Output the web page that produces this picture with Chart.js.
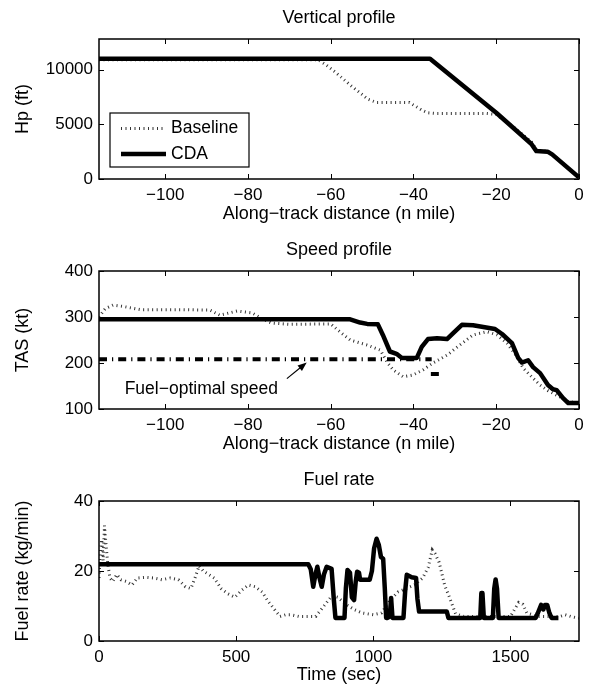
<!DOCTYPE html>
<html>
<head>
<meta charset="utf-8">
<script src="https://cdn.jsdelivr.net/npm/chart.js@4.4.0/dist/chart.umd.min.js"></script>
<style>
html, body { margin: 0; padding: 0; background: #fff; overflow: hidden; }
canvas { position: absolute; left: 0; }
</style>
</head>
<body>
<canvas id="c1" width="590" height="225" style="top:0px"></canvas>
<canvas id="c2" width="590" height="223" style="top:232px"></canvas>
<canvas id="c3" width="590" height="224" style="top:462px"></canvas>
<script>
// vertical profile (distance in n mile, altitude in ft)
const vpBaseDist = [-116, -63, -61, -59, -57, -55, -53, -51, -49, -41, -39.5, -38, -36.5, -35, -22.5, -20, -16, -11.5, -10.2, -7.5, -6.5, 0];
const vpBaseAlt = [10900, 10900, 10400, 9800, 9150, 8500, 7900, 7300, 7000, 7000, 6650, 6300, 6050, 6000, 6000, 5900, 4800, 3400, 2600, 2550, 2300, 150];
const vpCdaDist = [-116, -36, -20, -11.5, -10.3, -7.6, -6.5, 0];
const vpCdaAlt = [11000, 11000, 6060, 3200, 2550, 2500, 2250, 150];

// speed profile (TAS in kt)
const spBaseDist = [-116, -114.5, -112.6, -110.2, -106, -96, -89.2, -86.8, -82.6, -79, -76.5, -74.4, -70, -60, -57.8, -55.3, -51.2, -48, -46.4, -44.9, -42.5, -40.1, -37.7, -35.3, -31.9, -28.8, -25.6, -22.2, -19.8, -17.4, -15, -13.5, -11.1, -9.4, -7.5, -5, -2.5, 0];
const spBaseTas = [300, 318, 326, 323, 316, 316, 315, 304, 313, 309, 296, 287, 284, 285, 268, 250, 239, 228, 202, 185, 170, 174, 185, 200, 217, 239, 261, 268, 261, 243, 214, 189, 167, 152, 140, 128, 116, 113];
const spCdaDist = [-116, -55.3, -52.9, -51.2, -48.6, -47.4, -45.7, -44.1, -42.8, -39.2, -38, -36.5, -34.3, -31.9, -30.4, -28.3, -25.6, -20.3, -18.6, -16.2, -14.7, -13.8, -12.3, -11.1, -9.4, -7.5, -6.3, -5.4, -3.9, -2.6, 0];
const spCdaTas = [295, 295, 288, 285, 284, 261, 225, 220, 211, 211, 235, 252, 254, 252, 265, 283, 282, 274, 263, 243, 211, 201, 206, 191, 178, 152, 143, 141, 124, 113, 113];
const foDist = [-116, -35.6, -35.6, -35.8, -33.6];
const foTas = [208, 208, null, 176, 176];

// fuel rate (time in sec, kg/min)
const fuelBaseTime = [0, 5, 10, 15, 20, 25, 32, 40, 50, 65, 80, 100, 120, 140, 170, 200, 230, 260, 290, 315, 335, 350, 365, 380, 400, 420, 445, 470, 495, 520, 545, 570, 595, 615, 640, 660, 680, 700, 730, 790, 810, 830, 850, 870, 900, 930, 960, 1000, 1030, 1060, 1090, 1120, 1150, 1180, 1200, 1215, 1225, 1240, 1260, 1280, 1300, 1330, 1500, 1515, 1530, 1545, 1560, 1600, 1680, 1700, 1720, 1750];
const fuelBaseRate = [18, 26, 29, 23, 33, 28, 22, 18, 17, 19, 17.5, 17, 16, 18, 18.2, 18, 17.5, 18, 17.5, 15.5, 15, 18, 21.5, 20, 19, 18, 15, 13.5, 12.5, 14.5, 16, 15.5, 14, 11.5, 9, 7, 7.5, 7.5, 7, 7, 9, 11, 13, 12.5, 10.5, 9, 8, 7.5, 8, 11.5, 14, 15, 16, 18, 21, 26, 25, 22.5, 16, 12, 7.8, 7, 7, 9, 11, 10.5, 8, 7, 7, 7.5, 7, 6.5];
const fuelCdaTime = [0, 763, 772, 781, 789, 796, 804, 812, 820, 830, 848, 856, 862, 895, 900, 906, 915, 922, 930, 936, 941, 948, 952, 987, 995, 1003, 1012, 1020, 1028, 1036, 1042, 1047, 1052, 1060, 1065, 1070, 1110, 1116, 1122, 1140, 1156, 1161, 1167, 1268, 1274, 1390, 1394, 1398, 1403, 1436, 1441, 1446, 1451, 1457, 1592, 1600, 1612, 1620, 1626, 1634, 1642, 1650, 1675];
const fuelCdaRate = [21.9, 21.9, 20.5, 15.5, 19, 21.2, 18, 15.5, 19, 21.2, 20.6, 12, 6.6, 6.6, 15, 20.3, 19.5, 12.5, 11.7, 17, 19.8, 19.5, 17.5, 17.5, 20, 26.5, 29.2, 27.5, 24, 23.5, 15, 6.6, 6.6, 7, 12.3, 6.6, 6.6, 14, 18.9, 18.2, 18, 12, 8.4, 8.4, 6.6, 6.6, 13.7, 13.7, 6.6, 6.6, 15, 17.6, 15, 6.6, 6.6, 8, 10.3, 9, 10.3, 10.3, 8, 6.6, 6.6];

// tick values
const distTicks = [-100, -80, -60, -40, -20, 0];
const altTicks = [0, 5000, 10000];
const tasTicks = [100, 200, 300, 400];
const timeTicks = [0, 500, 1000, 1500];
const rateTicks = [0, 20, 40];

const FONT = "'Liberation Sans', Arial, Helvetica, sans-serif";
Chart.defaults.font.family = FONT;
Chart.defaults.font.size = 17;
Chart.defaults.color = '#000';

const pts = (xs, ys) => xs.map((x, i) => ({x: x, y: ys[i]}));
const fmt = v => v < 0 ? '\u2212' + Math.abs(v) : String(v);

const dotted = {borderColor: '#333', borderWidth: 3, borderDash: [1, 3.5], borderCapStyle: 'butt', pointRadius: 0, tension: 0, order: 2};
const solid = {borderColor: '#000', borderWidth: 4.5, pointRadius: 0, tension: 0, borderJoinStyle: 'round', order: 0};

// box + inward tick marks like matlab, title centred on the axes
const frame = {
    id: 'frame',
    afterDatasetsDraw(chart, args, opts) {
        const {ctx, chartArea: a, scales: {x, y}} = chart;
        ctx.save();
        ctx.strokeStyle = '#000';
        ctx.lineWidth = 1;
        ctx.setLineDash([]);
        ctx.beginPath();
        x.ticks.forEach(t => {
            const px = Math.round(x.getPixelForValue(t.value)) + 0.5;
            ctx.moveTo(px, a.bottom); ctx.lineTo(px, a.bottom - 5);
            ctx.moveTo(px, a.top); ctx.lineTo(px, a.top + 5);
        });
        y.ticks.forEach(t => {
            const py = Math.round(y.getPixelForValue(t.value)) + 0.5;
            ctx.moveTo(a.left, py); ctx.lineTo(a.left + 5, py);
            ctx.moveTo(a.right, py); ctx.lineTo(a.right - 5, py);
        });
        ctx.stroke();
        ctx.lineWidth = 1.5;
        ctx.strokeRect(a.left, a.top, a.right - a.left, a.bottom - a.top);
        ctx.fillStyle = '#000';
        ctx.font = '18px ' + FONT;
        ctx.textAlign = 'center';
        ctx.textBaseline = 'alphabetic';
        ctx.fillText(opts.text, (a.left + a.right) / 2, a.top - 16);
        ctx.restore();
    }
};

const legendBox = {
    id: 'legendBox',
    afterDatasetsDraw(chart) {
        const {ctx, chartArea: a} = chart;
        const x0 = a.left + 11, y0 = a.top + 74, w = 139, h = 54;
        ctx.save();
        ctx.fillStyle = '#fff';
        ctx.fillRect(x0, y0, w, h);
        ctx.strokeStyle = '#000';
        ctx.lineWidth = 1.2;
        ctx.strokeRect(x0, y0, w, h);
        const rows = [15.5, 41];
        chart.data.datasets.forEach((ds, i) => {
            const yy = y0 + rows[i];
            ctx.beginPath();
            ctx.strokeStyle = ds.borderColor;
            ctx.lineWidth = ds.borderWidth;
            ctx.lineCap = 'butt';
            ctx.setLineDash(ds.borderDash || []);
            ctx.moveTo(x0 + 11, yy);
            ctx.lineTo(x0 + 56, yy);
            ctx.stroke();
            ctx.setLineDash([]);
            ctx.fillStyle = '#000';
            ctx.font = '17.5px ' + FONT;
            ctx.textBaseline = 'middle';
            ctx.textAlign = 'left';
            ctx.fillText(ds.label, x0 + 61, yy);
        });
        ctx.restore();
    }
};

const speedNote = {
    id: 'speedNote',
    afterDatasetsDraw(chart) {
        const {ctx, scales: {x, y}} = chart;
        ctx.save();
        ctx.fillStyle = '#000';
        ctx.font = '17.5px ' + FONT;
        ctx.textBaseline = 'middle';
        ctx.textAlign = 'left';
        ctx.fillText('Fuel\u2212optimal speed', x.getPixelForValue(-109.8), y.getPixelForValue(143));
        const x1 = x.getPixelForValue(-70.6), y1 = y.getPixelForValue(166);
        const x2 = x.getPixelForValue(-65.8), y2 = y.getPixelForValue(201);
        const ang = Math.atan2(y2 - y1, x2 - x1);
        ctx.strokeStyle = '#000';
        ctx.lineWidth = 1.2;
        ctx.beginPath();
        ctx.moveTo(x1, y1);
        ctx.lineTo(x2 - 6 * Math.cos(ang), y2 - 6 * Math.sin(ang));
        ctx.stroke();
        ctx.beginPath();
        ctx.moveTo(x2, y2);
        ctx.lineTo(x2 - 9 * Math.cos(ang) + 3.5 * Math.sin(ang), y2 - 9 * Math.sin(ang) - 3.5 * Math.cos(ang));
        ctx.lineTo(x2 - 9 * Math.cos(ang) - 3.5 * Math.sin(ang), y2 - 9 * Math.sin(ang) + 3.5 * Math.cos(ang));
        ctx.closePath();
        ctx.fill();
        ctx.restore();
    }
};

function makeChart(el, o) {
    return new Chart(el, {
        type: 'line',
        data: {datasets: o.datasets},
        options: {
            responsive: false,
            animation: false,
            layout: {padding: {left: 0, right: 11, top: 39, bottom: 0}},
            plugins: {
                legend: {display: false},
                tooltip: {enabled: false},
                title: {display: false},
                frame: {text: o.title}
            },
            scales: {
                x: {
                    type: 'linear', min: o.xMin, max: o.xMax,
                    grid: {display: false, drawTicks: false}, border: {display: false},
                    ticks: {padding: 6, color: '#000', callback: fmt},
                    afterBuildTicks: s => { s.ticks = o.xTicks.map(v => ({value: v})); },
                    afterFit: s => { s.height = o.xh; },
                    title: {display: true, text: o.xTitle, color: '#000', font: {size: 18}, padding: {top: 0, bottom: 0}}
                },
                y: {
                    type: 'linear', min: o.yMin, max: o.yMax,
                    grid: {display: false, drawTicks: false}, border: {display: false},
                    ticks: {padding: 6, color: '#000', callback: fmt},
                    afterBuildTicks: s => { s.ticks = o.yTicks.map(v => ({value: v})); },
                    afterFit: s => { s.width = 99; },
                    title: {display: true, text: o.yTitle, color: '#000', font: {size: 18}, padding: {top: 12, bottom: 0}}
                }
            }
        },
        plugins: [frame].concat(o.extra || [])
    });
}

makeChart(document.getElementById('c1'), {
    title: 'Vertical profile',
    xMin: -116, xMax: 0, xTicks: distTicks, xTitle: 'Along\u2212track distance (n mile)', xh: 46,
    yMin: 0, yMax: 12800, yTicks: altTicks, yTitle: 'Hp (ft)',
    datasets: [
        Object.assign({label: 'Baseline', data: pts(vpBaseDist, vpBaseAlt)}, dotted),
        Object.assign({label: 'CDA', data: pts(vpCdaDist, vpCdaAlt)}, solid)
    ],
    extra: [legendBox]
});

makeChart(document.getElementById('c2'), {
    title: 'Speed profile',
    xMin: -116, xMax: 0, xTicks: distTicks, xTitle: 'Along\u2212track distance (n mile)', xh: 46,
    yMin: 100, yMax: 400, yTicks: tasTicks, yTitle: 'TAS (kt)',
    datasets: [
        Object.assign({label: 'Baseline', data: pts(spBaseDist, spBaseTas)}, dotted),
        Object.assign({label: 'CDA', data: pts(spCdaDist, spCdaTas)}, solid),
        {label: 'Fuel-optimal speed', data: pts(foDist, foTas), borderColor: '#000', borderWidth: 4,
         borderDash: [8, 5, 1.2, 5], borderCapStyle: 'butt', pointRadius: 0, tension: 0, spanGaps: false, order: 1}
    ],
    extra: [speedNote]
});

makeChart(document.getElementById('c3'), {
    title: 'Fuel rate',
    xMin: 0, xMax: 1750, xTicks: timeTicks, xTitle: 'Time (sec)', xh: 45,
    yMin: 0, yMax: 40, yTicks: rateTicks, yTitle: 'Fuel rate (kg/min)',
    datasets: [
        Object.assign({label: 'Baseline', data: pts(fuelBaseTime, fuelBaseRate)}, dotted),
        Object.assign({label: 'CDA', data: pts(fuelCdaTime, fuelCdaRate)}, solid)
    ]
});
</script>
</body>
</html>
